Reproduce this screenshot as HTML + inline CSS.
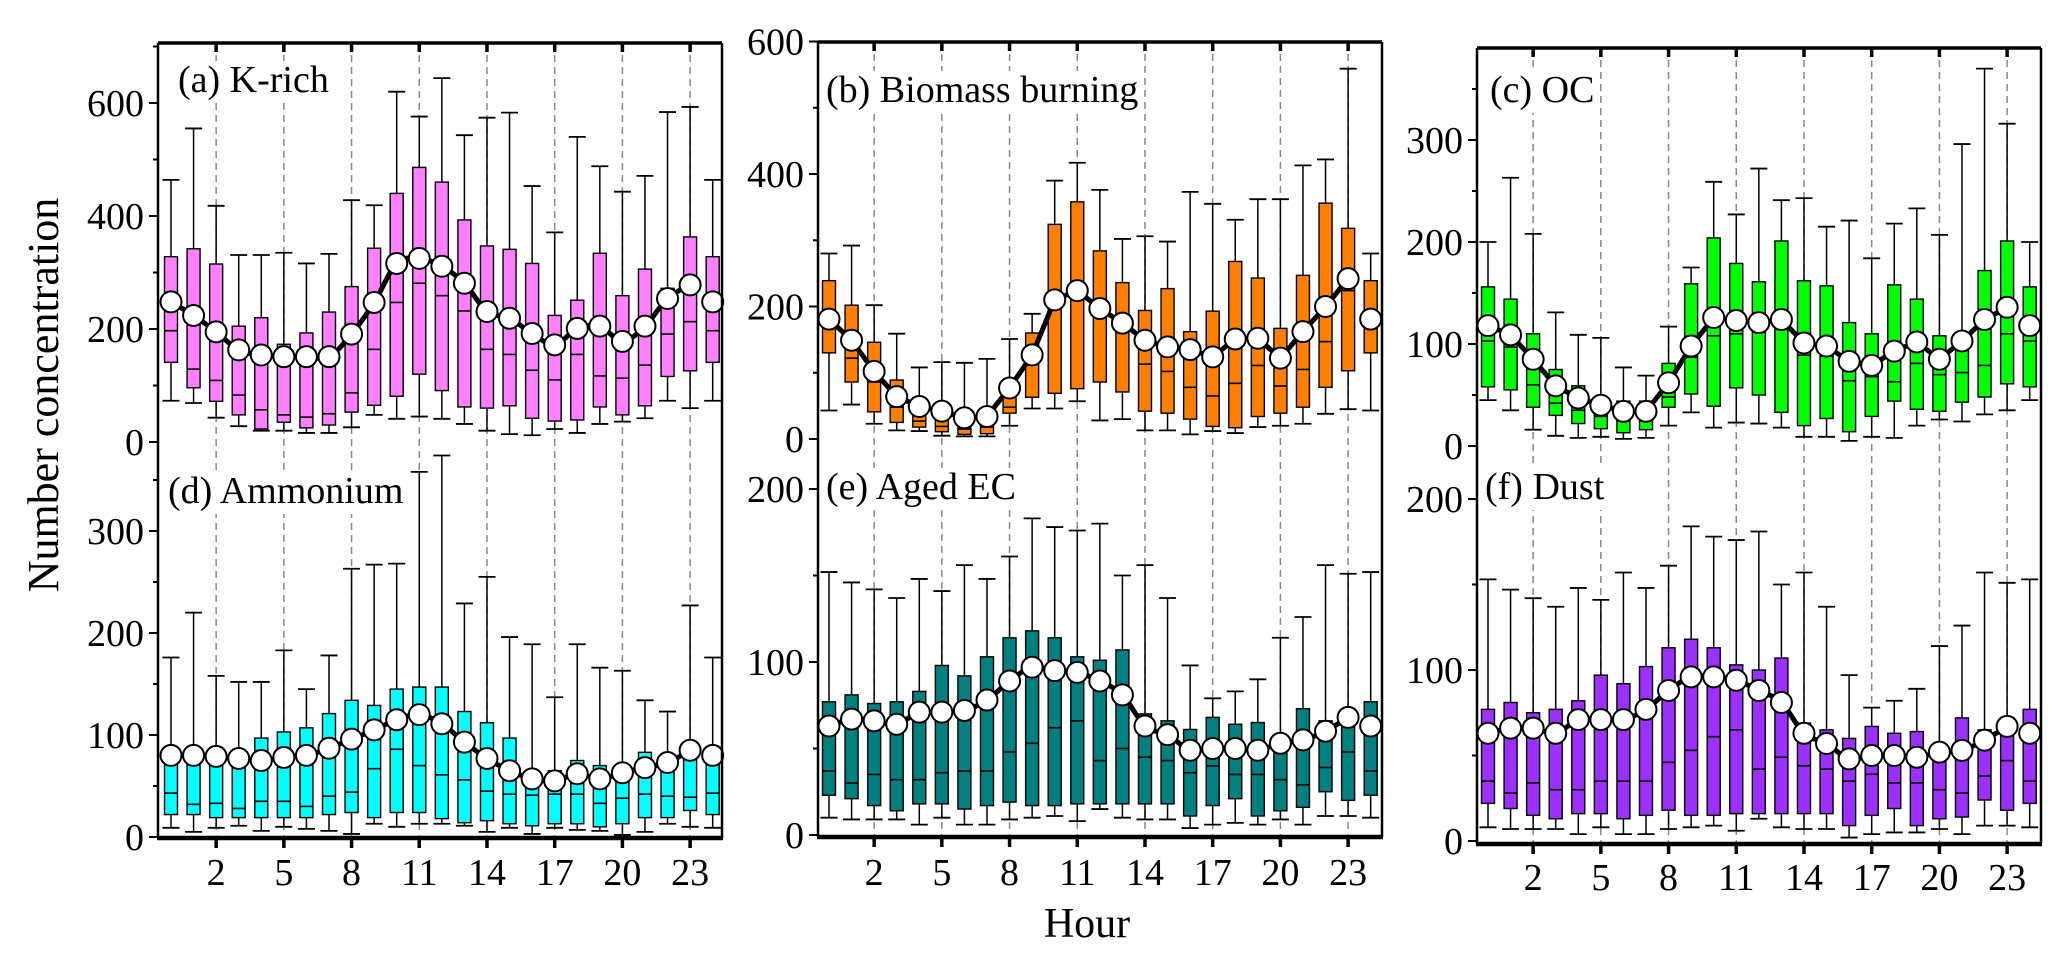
<!DOCTYPE html>
<html><head><meta charset="utf-8"><title>Diurnal number concentration</title>
<style>
html,body{margin:0;padding:0;background:#fff;}
svg{display:block;font-family:"Liberation Serif","DejaVu Serif",serif;}
</style></head>
<body>
<svg id="chart" width="2067" height="962" viewBox="0 0 2067 962" xmlns="http://www.w3.org/2000/svg">
<rect x="0" y="0" width="2067" height="962" fill="#fff"/>
<text x="0" y="0" transform="translate(58,395) rotate(-90)" text-anchor="middle" font-size="44">Number concentration</text>
<text x="1087" y="937" text-anchor="middle" font-size="42">Hour</text>
</svg>
<script>
const hours = [0,1,2,3,4,5,6,7,8,9,10,11,12,13,14,15,16,17,18,19,20,21,22,23,24];
const xTickHours = [2,5,8,11,14,17,20,23];

// (a) K-rich
const aWhi = [464,555,418,331,331,335,316,333,428,419,620,576,644,543,574,583,453,371,540,488,443,471,584,593,464];
const aQ3  = [328,342,315,205,220,173,193,230,275,343,440,486,460,393,347,341,316,224,251,334,259,306,272,363,328];
const aMed = [197,129,109,83,57,48,44,50,87,164,247,281,259,232,164,155,127,110,155,117,113,136,191,213,197];
const aQ1  = [141,96,72,48,23,35,25,30,53,65,81,120,91,62,60,64,42,37,39,62,48,64,116,126,141];
const aWlo = [73,69,43,28,20,20,16,16,26,48,41,45,41,32,20,14,12,23,16,32,36,42,73,60,73];
const aMean= [248,224,195,163,154,151,151,151,191,247,316,325,311,281,231,219,192,172,201,205,178,205,254,278,248];
const aTicks = [0,200,400,600];

// (b) Biomass burning
const bWhi = [280,292,202,159,108,116,115,121,151,189,390,417,376,302,306,298,373,355,331,362,362,413,422,559,280];
const bQ3  = [239,202,146,89,62,49,34,32,64,160,324,358,284,236,194,227,162,193,268,243,167,247,356,318,239];
const bMed = [185,122,86,48,27,19,15,18,48,125,205,220,190,170,113,102,78,65,84,111,80,105,147,224,185];
const bQ1  = [130,86,41,25,18,11,7,8,39,63,69,76,86,71,42,39,30,19,17,34,39,48,78,103,130];
const bWlo = [43,52,23,13,12,5,4,4,20,46,46,57,28,30,13,13,7,12,9,18,20,23,38,45,43];
const bMean= [181,149,102,64,49,42,32,34,77,127,210,224,197,175,149,139,135,124,151,152,122,162,200,242,181];
const bTicks = [0,200,400,600];

// (c) OC
const cWhi = [200,263,208,131,109,106,77,69,117,175,259,227,272,241,243,215,221,184,218,233,207,296,370,316,200];
const cQ3  = [156,144,110,75,59,42,44,44,81,159,204,179,161,201,162,157,121,110,158,144,108,110,172,201,156];
const cMed = [103,97,60,42,35,29,34,30,48,87,108,110,117,117,89,88,64,68,63,81,70,72,79,110,103];
const cQ1  = [58,55,38,30,22,17,13,16,38,51,39,57,50,33,20,27,14,29,44,36,34,43,48,61,58];
const cWlo = [45,35,16,10,8,9,7,8,20,33,18,23,22,18,9,9,5,9,8,20,26,24,31,35,45];
const cMean= [118,109,85,59,47,40,34,34,62,98,126,123,121,124,101,98,83,79,93,102,85,103,124,136,118];
const cTicks = [0,100,200,300];

// (d) Ammonium
const dWhi = [176,220,158,152,152,183,145,178,263,267,268,358,374,229,255,196,189,137,189,166,163,134,123,227,176];
const dQ3  = [85,80,78,75,97,103,107,121,134,129,145,147,147,123,112,97,60,65,75,70,60,83,68,80,85];
const dMed = [43,32,33,28,35,35,30,40,44,67,86,70,61,56,45,42,41,42,42,33,38,42,40,39,43];
const dQ1  = [22,22,19,19,19,19,19,22,24,19,24,24,18,14,16,13,11,13,13,10,13,19,19,26,22];
const dWlo = [9,5,9,11,6,10,8,6,3,13,10,13,13,11,5,9,3,9,7,6,2,5,13,10,9];
const dMean= [80,80,79,77,75,78,80,87,96,105,115,120,111,93,77,65,57,55,62,57,63,68,73,85,80];
const dTicks = [0,100,200,300];

// (e) Aged EC
const eWhi = [152,146,142,137,148,141,156,148,161,183,178,176,180,150,156,137,98,79,83,90,114,126,156,151,152];
const eQ3  = [77,81,76,77,83,98,92,103,114,118,114,103,101,107,70,66,61,68,64,65,56,73,66,70,77];
const eMed = [37,30,35,32,32,36,37,37,48,53,62,66,43,50,45,43,36,40,35,35,32,29,39,48,37];
const eQ1  = [23,21,17,14,18,18,15,17,19,17,17,18,18,18,18,18,11,17,21,11,14,16,25,20,23];
const eWlo = [10,9,9,9,6,10,6,6,9,10,11,8,15,10,9,9,4,6,7,6,9,6,11,11,10];
const eMean= [63,67,66,64,71,71,72,78,89,97,95,94,89,81,63,58,49,50,50,49,53,55,60,68,63];
const eTicks = [0,100,200];

// (f) Dust
const fWhi = [153,147,142,137,148,141,157,148,161,184,178,176,181,150,157,137,97,78,82,89,114,126,157,151,153];
const fQ3  = [77,81,75,77,82,97,92,102,113,118,113,103,100,107,69,65,60,67,63,64,53,72,65,66,77];
const fMed = [35,28,34,30,30,35,35,35,46,53,61,65,42,49,44,42,35,39,34,34,30,28,38,47,35];
const fQ1  = [22,19,15,13,16,16,13,15,18,15,15,16,16,16,16,16,9,15,19,9,13,14,24,18,22];
const fWlo = [8,7,7,7,4,8,4,4,7,8,9,6,13,8,7,7,2,4,5,5,7,4,9,9,8];
const fMean= [63,66,66,63,71,71,71,77,88,96,96,94,88,81,63,57,48,50,50,49,52,53,59,67,63];
const fTicks = [0,100,200];

const NS = "http://www.w3.org/2000/svg";
const svg = document.getElementById('chart');
function mk(tag, attrs, parent){
  const e = document.createElementNS(NS, tag);
  for (const k in attrs) e.setAttribute(k, attrs[k]);
  (parent||svg).appendChild(e);
  return e;
}
const STEP = 22.57;

const columns = [
  {x0:158, x1:722, top:43, bottom:838, h0:171, tickY:872, name:'left'},
  {x0:818, x1:1382, top:42, bottom:837, h0:829, tickY:872, name:'middle'},
  {x0:1477, x1:2041, top:48, bottom:844, h0:1488, tickY:877, name:'right'}
];
const panels = [
  {col:0, id:'a', label:'(a) K-rich', zero:442, k:0.565, top:43, bottom:442, minor:100, color:'#ff80ff', smooth:true, lx:178, ly:92,
   whi:aWhi,q3:aQ3,med:aMed,q1:aQ1,wlo:aWlo,mean:aMean,ticks:aTicks},
  {col:0, id:'d', label:'(d) Ammonium', zero:837, k:1.02, top:442, bottom:838, minor:50, color:'#00ffff', smooth:true, lx:168, ly:503,
   whi:dWhi,q3:dQ3,med:dMed,q1:dQ1,wlo:dWlo,mean:dMean,ticks:dTicks},
  {col:1, id:'b', label:'(b) Biomass burning', zero:439, k:0.6625, top:42, bottom:439, minor:100, color:'#ff8000', smooth:false, lx:826, ly:102,
   whi:bWhi,q3:bQ3,med:bMed,q1:bQ1,wlo:bWlo,mean:bMean,ticks:bTicks},
  {col:1, id:'e', label:'(e) Aged EC', zero:835, k:1.73, top:439, bottom:837, minor:50, color:'#008080', smooth:true, lx:826, ly:499,
   whi:eWhi,q3:eQ3,med:eMed,q1:eQ1,wlo:eWlo,mean:eMean,ticks:eTicks},
  {col:2, id:'c', label:'(c) OC', zero:446, k:1.02, top:48, bottom:446, minor:50, color:'#00ff00', smooth:false, lx:1490, ly:102,
   whi:cWhi,q3:cQ3,med:cMed,q1:cQ1,wlo:cWlo,mean:cMean,ticks:cTicks},
  {col:2, id:'f', label:'(f) Dust', zero:841, k:1.71, top:446, bottom:844, minor:50, color:'#9b30ff', smooth:true, lx:1485, ly:499,
   whi:fWhi,q3:fQ3,med:fMed,q1:fQ1,wlo:fWlo,mean:fMean,ticks:fTicks}
];

columns.forEach(c => {
  const xs = h => c.h0 + STEP*h;
  const g = mk('g', {});
  
  
  xTickHours.forEach(h => {
    const gl = mk('line', {x1:xs(h), x2:xs(h), y1:c.top, y2:c.bottom, stroke:'#888', 'stroke-width':1.5, 'stroke-dasharray':'7,5'}, g);
    
    
  });
});

panels.forEach(p => {
  const c = columns[p.col];
  const xs = h => c.h0 + STEP*h;
  const ys = v => p.zero - v*p.k;
  const g = mk('g', {});
  
  
  const bw = 13, cw = 17;
  hours.forEach((h, i) => {
    const bx = mk('g', {}, g);
    
    
    const x = xs(h);
    mk('line', {x1:x, x2:x, y1:ys(p.whi[i]), y2:ys(p.q3[i]), stroke:'#000', 'stroke-width':1.5}, bx);
    mk('line', {x1:x, x2:x, y1:ys(p.q1[i]), y2:ys(p.wlo[i]), stroke:'#000', 'stroke-width':1.5}, bx);
    mk('line', {x1:x-cw/2, x2:x+cw/2, y1:ys(p.whi[i]), y2:ys(p.whi[i]), stroke:'#000', 'stroke-width':1.8}, bx);
    mk('line', {x1:x-cw/2, x2:x+cw/2, y1:ys(p.wlo[i]), y2:ys(p.wlo[i]), stroke:'#000', 'stroke-width':1.8}, bx);
    mk('rect', {x:x-bw/2, y:ys(p.q3[i]), width:bw, height:Math.max(1, ys(p.q1[i])-ys(p.q3[i])), fill:p.color, stroke:'#000', 'stroke-width':1.4}, bx);
    mk('line', {x1:x-bw/2, x2:x+bw/2, y1:ys(p.med[i]), y2:ys(p.med[i]), stroke:'#000', 'stroke-width':1.6}, bx);
  });
  const pts = [];
  for (let i = 0; i < 24; i++) pts.push([xs(hours[i]), ys(p.mean[i])]);
  let d = 'M' + pts[0][0] + ',' + pts[0][1];
  if (p.smooth) {
    for (let i = 0; i < pts.length-1; i++) {
      const p0 = pts[Math.max(0,i-1)], p1 = pts[i], p2 = pts[i+1], p3 = pts[Math.min(pts.length-1,i+2)];
      const c1x = p1[0] + (p2[0]-p0[0])/6, c1y = p1[1] + (p2[1]-p0[1])/6;
      const c2x = p2[0] - (p3[0]-p1[0])/6, c2y = p2[1] - (p3[1]-p1[1])/6;
      d += ' C' + c1x + ',' + c1y + ' ' + c2x + ',' + c2y + ' ' + p2[0] + ',' + p2[1];
    }
  } else {
    for (let i = 1; i < pts.length; i++) d += ' L' + pts[i][0] + ',' + pts[i][1];
  }
  const ml = mk('path', {d:d, fill:'none', stroke:'#000', 'stroke-width':5, 'stroke-linejoin':'round'}, g);
  
  
  hours.forEach((h, i) => {
    const cc = mk('circle', {cx:xs(h), cy:ys(p.mean[i]), r:10.5, fill:'#fff', stroke:'#000', 'stroke-width':2}, g);
    
    
  });
  const yax = mk('g', {}, g);
  
  
  for (let v = 0; ys(v) >= p.top - 0.5; v += p.minor) {
    const major = p.ticks.indexOf(v) >= 0;
    mk('line', {x1:c.x0 - (major?9:5), x2:c.x0, y1:ys(v), y2:ys(v), stroke:'#000', 'stroke-width':2}, yax);
  }
  p.ticks.forEach(v => {
    const t = mk('text', {x:c.x0 - 14, y:ys(v) + 13, 'text-anchor':'end', 'font-size':38}, yax);
    t.textContent = v;
    
    
  });
  const lg = mk('g', {}, g);
  
  
  const bg = mk('rect', {fill:'#fff'}, lg);
  const lt = mk('text', {x:p.lx, y:p.ly, 'font-size':38}, lg);
  lt.textContent = p.label;
  const bb = lt.getBBox();
  bg.setAttribute('x', bb.x - 2); bg.setAttribute('y', bb.y + 2);
  bg.setAttribute('width', bb.width + 4); bg.setAttribute('height', bb.height);
});

columns.forEach(c => {
  const xs = h => c.h0 + STEP*h;
  const g = mk('g', {});
  
  
  mk('line', {x1:c.x0, x2:c.x1, y1:c.top, y2:c.top, stroke:'#000', 'stroke-width':3.5}, g);
  mk('line', {x1:c.x1, x2:c.x1, y1:c.top, y2:c.bottom, stroke:'#000', 'stroke-width':2.5}, g);
  mk('line', {x1:c.x0, x2:c.x0, y1:c.top, y2:c.bottom, stroke:'#000', 'stroke-width':2.5}, g);
  mk('line', {x1:c.x0-1, x2:c.x1+1, y1:c.bottom, y2:c.bottom, stroke:'#000', 'stroke-width':4.5}, g);
  xTickHours.forEach(h => {
    mk('line', {x1:xs(h), x2:xs(h), y1:c.top, y2:c.top+9, stroke:'#000', 'stroke-width':3.5}, g);
    mk('line', {x1:xs(h), x2:xs(h), y1:c.bottom, y2:c.bottom+10, stroke:'#000', 'stroke-width':3.5}, g);
    const t = mk('text', {x:xs(h), y:c.tickY + 13, 'text-anchor':'middle', 'font-size':38}, g);
    t.textContent = h;
    
    
  });
});
</script>
</body></html>
